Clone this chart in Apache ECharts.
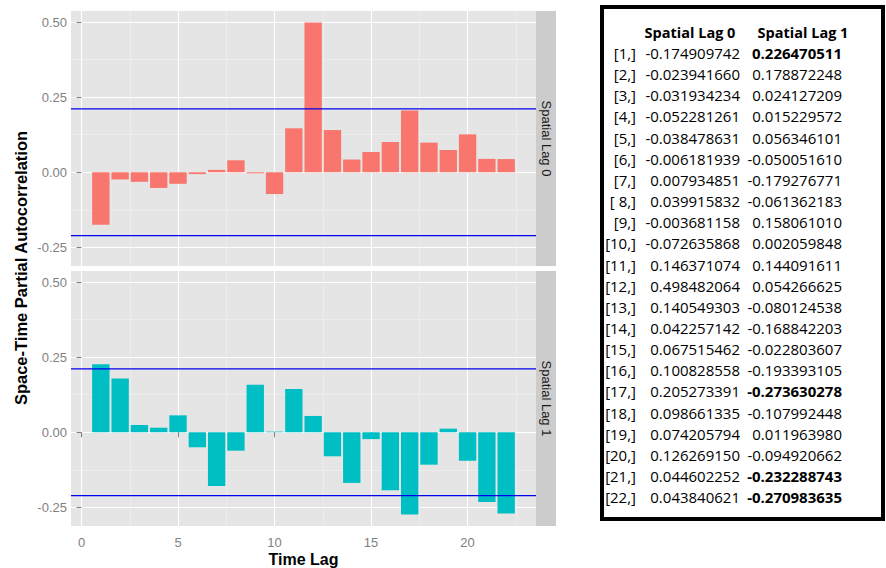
<!DOCTYPE html>
<html><head><meta charset="utf-8">
<script src="https://cdn.jsdelivr.net/npm/echarts@6/dist/echarts.min.js"></script>
<style>html,body{margin:0;padding:0;background:#fff}#c{width:886px;height:568px}</style>
</head><body><div id="c"></div>
<script>
// ---------- data ----------
const timeLags = [1,2,3,4,5,6,7,8,9,10,11,12,13,14,15,16,17,18,19,20,21,22];
const spatialLag0 = [-0.174909742,-0.023941660,-0.031934234,-0.052281261,-0.038478631,-0.006181939,
  0.007934851,0.039915832,-0.003681158,-0.072635868,0.146371074,0.498482064,0.140549303,0.042257142,
  0.067515462,0.100828558,0.205273391,0.098661335,0.074205794,0.126269150,0.044602252,0.043840621];
const spatialLag1 = [0.226470511,0.178872248,0.024127209,0.015229572,0.056346101,-0.050051610,
  -0.179276771,-0.061362183,0.158061010,0.002059848,0.144091611,0.054266625,-0.080124538,-0.168842203,
  -0.022803607,-0.193393105,-0.273630278,-0.107992448,0.011963980,-0.094920662,-0.232288743,-0.270983635];
const rowLabels = ['[1,]','[2,]','[3,]','[4,]','[5,]','[6,]','[7,]','[ 8,]','[9,]','[10,]','[11,]',
  '[12,]','[13,]','[14,]','[15,]','[16,]','[17,]','[18,]','[19,]','[20,]','[21,]','[22,]'];
const tableHeaders = ['Spatial Lag 0','Spatial Lag 1'];
const panelLabels = ['Spatial Lag 0','Spatial Lag 1'];
const confBound = 0.211;
const yTicks = [-0.25, 0, 0.25, 0.5];
const yMinorTicks = [-0.125, 0.125, 0.375];
const xTicks = [0, 5, 10, 15, 20];
const xMinorTicks = [2.5, 7.5, 12.5, 17.5, 22.5];
const yTitle = 'Space-Time Partial Autocorrelation';
const xTitle = 'Time Lag';

// ---------- layout / style ----------
const G = {left: 71, width: 465, height: 255, tops: [11, 271]};
const colors = ['#F8766D', '#00BFC4'];
const boundColor = '#0000ee';
const allVals = spatialLag0.concat(spatialLag1);
const yLo = Math.min(...allVals), yHi = Math.max(...allVals);
const yPad = (yHi - yLo) * 0.05;
const yMin = yLo - yPad, yMax = yHi + yPad;
const xLo = timeLags[0] - 0.45, xHi = timeLags[timeLags.length - 1] + 0.45;
const xPad = (xHi - xLo) * 0.05;
const xMin = xLo - xPad, xMax = xHi + xPad;
const unitPx = G.width / (xMax - xMin);
const grey = '#7f7f7f';
const font = 'Liberation Sans, Arial, sans-serif';

function mkX(gi, major) {
  const showLab = major && gi === 1;
  return {
    type: 'value', gridIndex: gi, min: xMin, max: xMax, position: 'bottom',
    axisLine: {show: false},
    axisTick: {show: showLab, length: 5, lineStyle: {color: grey}, customValues: major ? xTicks : xMinorTicks},
    axisLabel: {show: showLab, color: grey, fontSize: 13, fontFamily: font, margin: 10,
      customValues: major ? xTicks : xMinorTicks},
    splitLine: {show: true, lineStyle: {color: major ? '#ffffff' : '#f2f2f2', width: major ? 1.1 : 0.6}}
  };
}
function mkY(gi, major) {
  return {
    type: 'value', gridIndex: gi, min: yMin, max: yMax, position: 'left',
    axisLine: {show: false},
    axisTick: {show: major, length: 5, lineStyle: {color: grey}, customValues: major ? yTicks : yMinorTicks},
    axisLabel: {show: major, color: grey, fontSize: 13, fontFamily: font, margin: 4,
      formatter: v => v.toFixed(2), customValues: major ? yTicks : yMinorTicks},
    splitLine: {show: true, lineStyle: {color: major ? '#ffffff' : '#f2f2f2', width: major ? 1.1 : 0.6}}
  };
}

const seriesData = [spatialLag0, spatialLag1];
const series = [];
seriesData.forEach((vals, i) => {
  series.push({
    type: 'bar', xAxisIndex: i * 2, yAxisIndex: i * 2, z: 3,
    data: timeLags.map((t, k) => [t, vals[k]]),
    barWidth: unitPx * 0.9,
    itemStyle: {color: colors[i]},
    silent: true
  });
  [confBound, -confBound].forEach(b => series.push({
    type: 'line', xAxisIndex: i * 2, yAxisIndex: i * 2, z: 4,
    data: [[xMin, b], [xMax, b]],
    showSymbol: false, symbol: 'none', silent: true,
    lineStyle: {color: boundColor, width: 1.2, type: 'solid'},
    itemStyle: {color: boundColor}
  }));
});

// ---------- graphics ----------
const graphic = [];
G.tops.forEach((top, i) => {
  graphic.push({type: 'rect', shape: {x: G.left + G.width, y: top, width: 20, height: G.height},
    style: {fill: '#cccccc'}, silent: true});
  graphic.push({type: 'text', x: G.left + G.width + 10, y: top + G.height / 2, rotation: -Math.PI / 2,
    style: {text: panelLabels[i], font: '13px ' + font, fill: '#1a1a1a', align: 'center', verticalAlign: 'middle'}});
});
graphic.push({type: 'text', x: 21, y: 268, rotation: Math.PI / 2,
  style: {text: yTitle, font: 'bold 16.5px ' + font, fill: '#000', align: 'center', verticalAlign: 'middle'}});
graphic.push({type: 'text', x: G.left + G.width / 2, y: 559,
  style: {text: xTitle, font: 'bold 16px ' + font, fill: '#000', align: 'center', verticalAlign: 'middle'}});

// table
const tFont = '"Open Sans", sans-serif';
graphic.push({type: 'rect', shape: {x: 602, y: 7, width: 281, height: 512},
  style: {fill: '#fff', stroke: '#000', lineWidth: 4}, silent: true});
const headX = [690, 803];
tableHeaders.forEach((h, i) => graphic.push({type: 'text', x: headX[i], y: 32,
  style: {text: h, font: 'bold 14.5px ' + tFont, fill: '#000', align: 'center', verticalAlign: 'middle'}}));
rowLabels.forEach((lab, r) => {
  const y = 53 + r * 21.15;
  graphic.push({type: 'text', x: 636, y: y,
    style: {text: lab, font: '15px ' + tFont, fill: '#000', align: 'right', verticalAlign: 'middle'}});
  graphic.push({type: 'text', x: 740, y: y,
    style: {text: spatialLag0[r].toFixed(9), font: '15px ' + tFont,
      fill: '#000', align: 'right', verticalAlign: 'middle'}});
  graphic.push({type: 'text', x: 842, y: y,
    style: {text: spatialLag1[r].toFixed(9), font: (Math.abs(spatialLag1[r]) > confBound ? 'bold ' : '') + '15px ' + tFont,
      fill: '#000', align: 'right', verticalAlign: 'middle'}});
});

const chart = echarts.init(document.getElementById('c'), null, {renderer: 'svg'});
chart.setOption({
  animation: false,
  backgroundColor: '#ffffff',
  grid: G.tops.map(t => ({left: G.left, top: t, width: G.width, height: G.height, show: true,
    backgroundColor: '#e5e5e5', borderWidth: 0, containLabel: false})),
  xAxis: [mkX(0, true), mkX(0, false), mkX(1, true), mkX(1, false)],
  yAxis: [mkY(0, true), mkY(0, false), mkY(1, true), mkY(1, false)],
  series: series,
  graphic: graphic
});
</script>
</body></html>
